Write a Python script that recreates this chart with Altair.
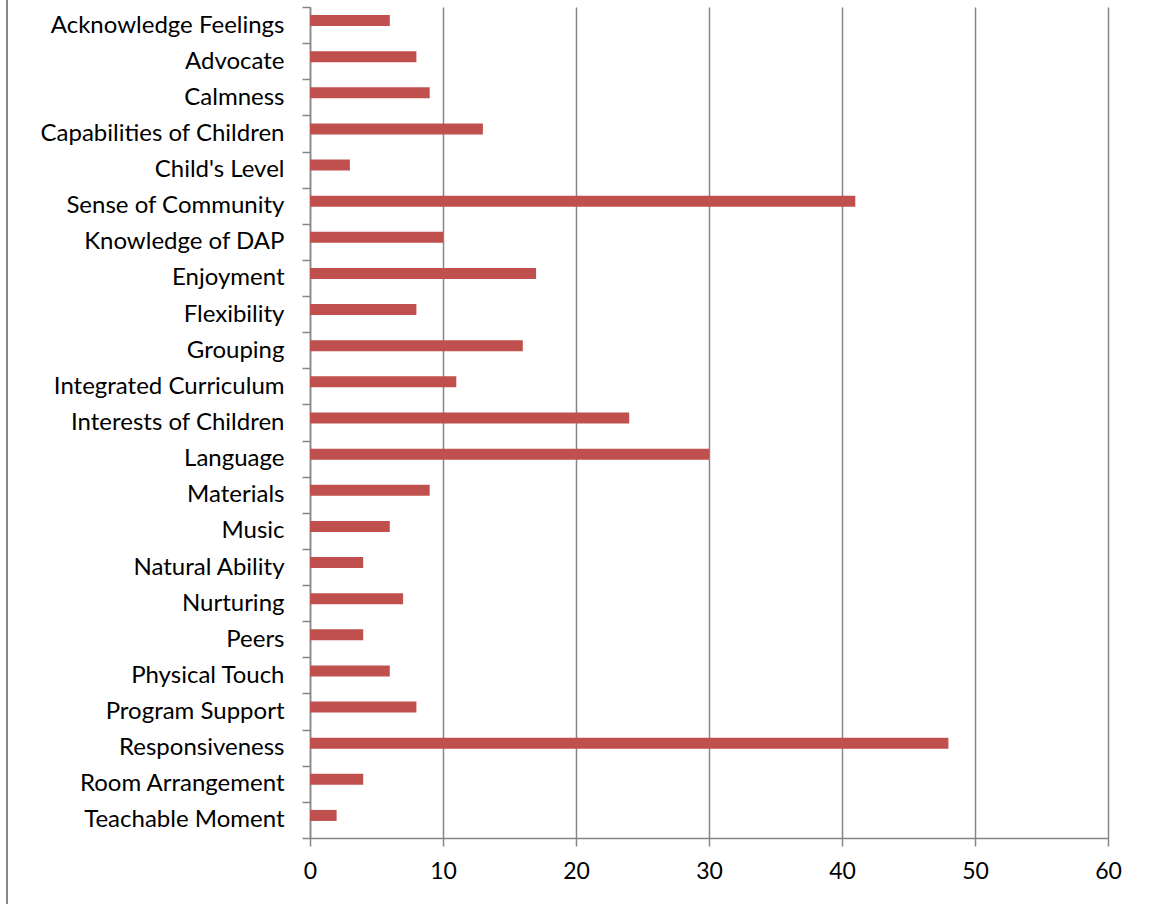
import altair as alt
import pandas as pd

categories = [
    "Acknowledge Feelings", "Advocate", "Calmness", "Capabilities of Children",
    "Child's Level", "Sense of Community", "Knowledge of DAP", "Enjoyment",
    "Flexibility", "Grouping", "Integrated Curriculum", "Interests of Children",
    "Language", "Materials", "Music", "Natural Ability", "Nurturing", "Peers",
    "Physical Touch", "Program Support", "Responsiveness", "Room Arrangement",
    "Teachable Moment",
]
values = [6, 8, 9, 13, 3, 41, 10, 17, 8, 16, 11, 24, 30, 9, 6, 4, 7, 4, 6, 8, 48, 4, 2]
x_ticks = [0, 10, 20, 30, 40, 50, 60]

df = pd.DataFrame({"category": categories, "value": values})

FONT = "Lato"
GRID = "#868686"

bars = alt.Chart(df).mark_bar(color="#C0504D", size=11, yOffset=-4.5).encode(
    x=alt.X("value:Q", scale=alt.Scale(domain=[0, 60], nice=False),
            axis=alt.Axis(values=x_ticks, title=None, grid=True, gridColor=GRID,
                          gridWidth=1.5, domainColor=GRID, domainWidth=1.5,
                          tickColor=GRID, tickWidth=1.5, tickSize=8,
                          labelFont=FONT, labelFontSize=23, labelColor="#000000",
                          labelPadding=14, labelFlush=False)),
    y=alt.Y("category:N", sort=categories, scale=alt.Scale(paddingInner=0, paddingOuter=0),
            axis=alt.Axis(title=None, tickBand="extent", domainColor=GRID, domainWidth=1.5,
                          tickColor=GRID, tickWidth=1.5, tickSize=8,
                          labelFont=FONT, labelFontSize=24, labelColor="#000000",
                          labelPadding=18, labelLimit=400)),
)

frame = alt.Chart(df).mark_rule(color=GRID, strokeWidth=1.5).encode(
    x=alt.value(-303), y=alt.value(-7), y2=alt.value(897)
)

chart = alt.layer(bars, frame).properties(
    width=798, height=831,
    autosize=alt.AutoSizeParams(type="none"),
    padding={"left": 310, "top": 7, "right": 41, "bottom": 66},
).configure_view(stroke=None)

chart.save("out.html", embed_options={"renderer": "svg", "actions": False})
